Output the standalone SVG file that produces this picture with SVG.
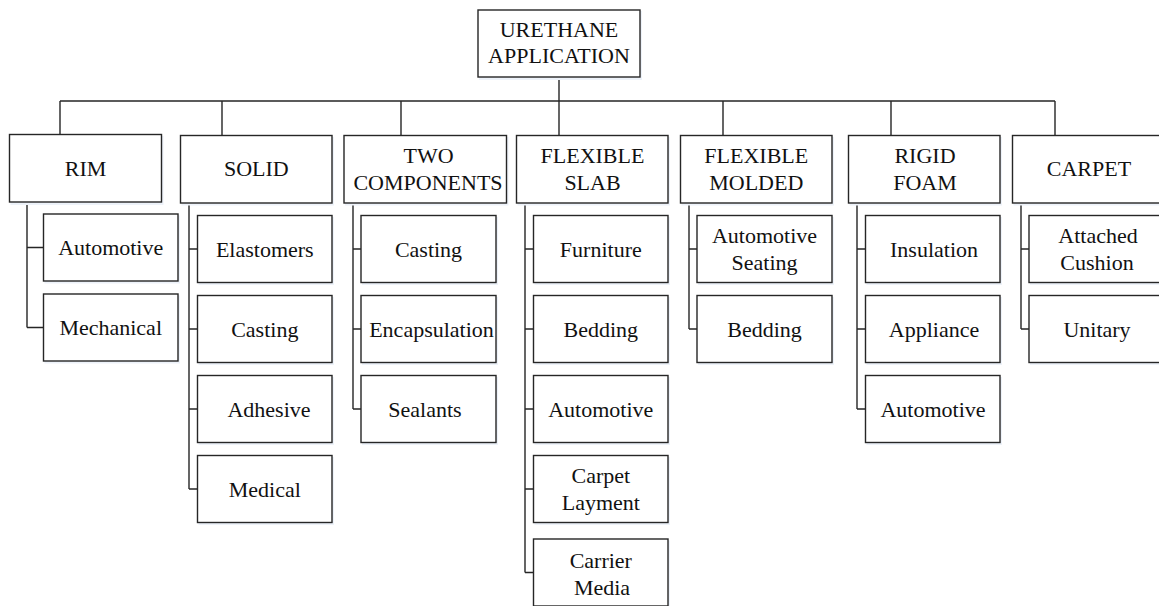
<svg xmlns="http://www.w3.org/2000/svg" width="1159" height="606" viewBox="0 0 1159 606">
<style>
.b{fill:#fff;stroke:#262626;stroke-width:1.4}
.s{fill:#edf2f9;stroke:none}
.t{font-family:"Liberation Serif","Times New Roman",serif;font-size:22px;fill:#111;text-anchor:middle}
.c{fill:none;stroke:#262626;stroke-width:1.4}
</style>
<rect width="1159" height="606" fill="#fff"/>
<g id="connectors">
<path class="c" d="M559 77V101M60 101H1055M60 101V135M222 101V135M401 101V135M559 101V135M723 101V135M891 101V135M1055 101V135"/>
<path class="c" d="M27 202.5V327.5M27 247.5H43.5M27 327.5H43.5"/>
<path class="c" d="M189 203V489M189 249H197.5M189 329H197.5M189 409H197.5M189 489H197.5"/>
<path class="c" d="M353 203V409M353 249H361M353 329H361M353 409H361"/>
<path class="c" d="M525 203V572.5M525 249H533.5M525 329H533.5M525 409H533.5M525 489H533.5M525 572.5H533.5"/>
<path class="c" d="M689 203V329M689 249H697M689 329H697"/>
<path class="c" d="M857 203V409M857 249H865.5M857 329H865.5M857 409H865.5"/>
<path class="c" d="M1021 203V329M1021 249H1029M1021 329H1029"/>
</g>
<g id="root"><rect class="s" x="479" y="11" width="163" height="69"/><rect class="b" x="478" y="10" width="162" height="67"/><text class="t" x="559" y="36.7">URETHANE</text><text class="t" x="559" y="63.3">APPLICATION</text></g>
<g id="rim"><rect class="s" x="10.5" y="136" width="153" height="69"/><rect class="b" x="9.5" y="134.5" width="152" height="67.5"/><text class="t" x="85.5" y="175.5">RIM</text></g>
<g id="solid"><rect class="s" x="181.5" y="137" width="152.5" height="68.5"/><rect class="b" x="180.5" y="135.5" width="151.5" height="67.5"/><text class="t" x="256.3" y="176">SOLID</text></g>
<g id="two"><rect class="s" x="345" y="137" width="163.5" height="68.5"/><rect class="b" x="344" y="135.5" width="162.5" height="67.5"/><text class="t" x="428.5" y="163.3">TWO</text><text class="t" x="428" y="190">COMPONENTS</text></g>
<g id="flexslab"><rect class="s" x="517.5" y="137" width="152.5" height="68.5"/><rect class="b" x="516.5" y="135.5" width="151.5" height="67.5"/><text class="t" x="592.5" y="163.3">FLEXIBLE</text><text class="t" x="592.5" y="190">SLAB</text></g>
<g id="flexmold"><rect class="s" x="681.5" y="137" width="152.5" height="68.5"/><rect class="b" x="680.5" y="135.5" width="151.5" height="67.5"/><text class="t" x="756.3" y="163.3">FLEXIBLE</text><text class="t" x="756.3" y="190">MOLDED</text></g>
<g id="rigid"><rect class="s" x="849.5" y="137" width="152.5" height="68.5"/><rect class="b" x="848.5" y="135.5" width="151.5" height="67.5"/><text class="t" x="925" y="163.3">RIGID</text><text class="t" x="925" y="190">FOAM</text></g>
<g id="carpet"><rect class="s" x="1013.5" y="137" width="155" height="68.5"/><rect class="b" x="1012.5" y="135.5" width="154" height="67.5"/><text class="t" x="1089" y="176">CARPET</text></g>
<g id="rim-automotive"><rect class="s" x="44.5" y="215.5" width="135.5" height="68"/><rect class="b" x="43.5" y="214" width="134.5" height="67"/><text class="t" x="110.7" y="255">Automotive</text></g>
<g id="rim-mechanical"><rect class="s" x="44.5" y="295.5" width="135.5" height="68"/><rect class="b" x="43.5" y="294" width="134.5" height="67"/><text class="t" x="110.7" y="335">Mechanical</text></g>
<g id="solid-elastomers"><rect class="s" x="198.5" y="217" width="135.5" height="68"/><rect class="b" x="197.5" y="215.5" width="134.5" height="67"/><text class="t" x="264.8" y="256.5">Elastomers</text></g>
<g id="solid-casting"><rect class="s" x="198.5" y="297" width="135.5" height="68"/><rect class="b" x="197.5" y="295.5" width="134.5" height="67"/><text class="t" x="264.8" y="336.5">Casting</text></g>
<g id="solid-adhesive"><rect class="s" x="198.5" y="377" width="135.5" height="68"/><rect class="b" x="197.5" y="375.5" width="134.5" height="67"/><text class="t" x="269" y="416.5">Adhesive</text></g>
<g id="solid-medical"><rect class="s" x="198.5" y="457" width="135.5" height="68"/><rect class="b" x="197.5" y="455.5" width="134.5" height="67"/><text class="t" x="264.8" y="496.5">Medical</text></g>
<g id="two-casting"><rect class="s" x="362" y="217" width="136" height="68"/><rect class="b" x="361" y="215.5" width="135" height="67"/><text class="t" x="428.5" y="256.5">Casting</text></g>
<g id="two-encapsulation"><rect class="s" x="362" y="297" width="136" height="68"/><rect class="b" x="361" y="295.5" width="135" height="67"/><text class="t" x="431.5" y="336.5">Encapsulation</text></g>
<g id="two-sealants"><rect class="s" x="362" y="377" width="136" height="68"/><rect class="b" x="361" y="375.5" width="135" height="67"/><text class="t" x="425" y="416.5">Sealants</text></g>
<g id="slab-furniture"><rect class="s" x="534.5" y="217" width="135.5" height="68"/><rect class="b" x="533.5" y="215.5" width="134.5" height="67"/><text class="t" x="600.8" y="256.5">Furniture</text></g>
<g id="slab-bedding"><rect class="s" x="534.5" y="297" width="135.5" height="68"/><rect class="b" x="533.5" y="295.5" width="134.5" height="67"/><text class="t" x="600.8" y="336.5">Bedding</text></g>
<g id="slab-automotive"><rect class="s" x="534.5" y="377" width="135.5" height="68"/><rect class="b" x="533.5" y="375.5" width="134.5" height="67"/><text class="t" x="600.8" y="416.5">Automotive</text></g>
<g id="slab-carpet"><rect class="s" x="534.5" y="457" width="135.5" height="68"/><rect class="b" x="533.5" y="455.5" width="134.5" height="67"/><text class="t" x="600.8" y="483">Carpet</text><text class="t" x="600.8" y="510">Layment</text></g>
<g id="slab-carrier"><rect class="s" x="534.5" y="540.5" width="135.5" height="68"/><rect class="b" x="533.5" y="539" width="134.5" height="67"/><text class="t" x="600.8" y="568">Carrier</text><text class="t" x="602" y="595">Media</text></g>
<g id="mold-seating"><rect class="s" x="698" y="217" width="136" height="68"/><rect class="b" x="697" y="215.5" width="135" height="67"/><text class="t" x="764.5" y="243">Automotive</text><text class="t" x="764.5" y="270">Seating</text></g>
<g id="mold-bedding"><rect class="s" x="698" y="297" width="136" height="68"/><rect class="b" x="697" y="295.5" width="135" height="67"/><text class="t" x="764.5" y="336.5">Bedding</text></g>
<g id="rigid-insulation"><rect class="s" x="866.5" y="217" width="135.5" height="68"/><rect class="b" x="865.5" y="215.5" width="134.5" height="67"/><text class="t" x="934" y="256.5">Insulation</text></g>
<g id="rigid-appliance"><rect class="s" x="866.5" y="297" width="135.5" height="68"/><rect class="b" x="865.5" y="295.5" width="134.5" height="67"/><text class="t" x="934" y="336.5">Appliance</text></g>
<g id="rigid-automotive"><rect class="s" x="866.5" y="377" width="135.5" height="68"/><rect class="b" x="865.5" y="375.5" width="134.5" height="67"/><text class="t" x="933" y="416.5">Automotive</text></g>
<g id="carpet-cushion"><rect class="s" x="1030" y="217" width="138" height="68"/><rect class="b" x="1029" y="215.5" width="137" height="67"/><text class="t" x="1098" y="243">Attached</text><text class="t" x="1097" y="270">Cushion</text></g>
<g id="carpet-unitary"><rect class="s" x="1030" y="297" width="138" height="68"/><rect class="b" x="1029" y="295.5" width="137" height="67"/><text class="t" x="1097" y="336.5">Unitary</text></g>
</svg>
